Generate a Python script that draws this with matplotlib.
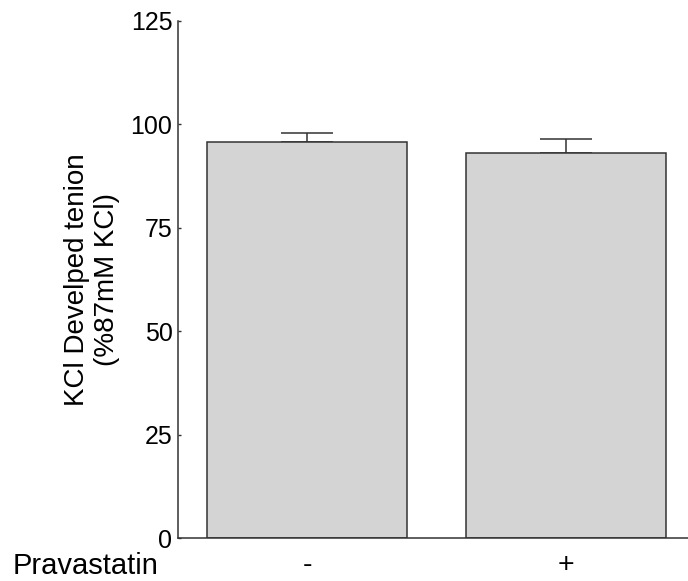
import matplotlib
matplotlib.use("Agg")
from matplotlib import pyplot as plt

plt.rcParams["font.family"] = ["Liberation Sans", "DejaVu Sans"]

groups = ["-", "+"]
tension = [95.7, 93.2]
sem = [2.1, 3.3]
yticks = [0, 25, 50, 75, 100, 125]

fig = plt.figure(figsize=(6.88, 5.81), dpi=100)
ax = fig.add_axes([0.2587, 0.074, 0.7413, 0.8899])

pos = list(range(len(groups)))
ax.bar(pos, tension, width=0.772, color="#d4d4d4", edgecolor="#333333",
       linewidth=1.1, zorder=2)
ax.errorbar(pos, tension, yerr=[[0, 0], sem], fmt="none", ecolor="#333333",
            elinewidth=1.1, capsize=18.4, capthick=1.1, zorder=1)

ax.set_xlim(-0.5, 1.47)
ax.set_ylim(0, 125)
ax.set_yticks(yticks)
ax.set_xticks(pos)
ax.set_xticklabels(groups, fontsize=20.5)
ax.tick_params(axis="y", direction="in", length=2.5, width=1, pad=4,
               labelsize=18, color="#333333")
ax.tick_params(axis="x", length=0, pad=10)

for s in ["top", "right"]:
    ax.spines[s].set_visible(False)
for s in ["left", "bottom"]:
    ax.spines[s].set_color("#333333")
    ax.spines[s].set_linewidth(1.1)

ax.set_ylabel("KCl Develped tenion\n(%87mM KCl)", fontsize=20)
ax.yaxis.set_label_coords(-0.113, 0.5)

fig.text(13 / 688, 7 / 581, "Pravastatin", fontsize=21, ha="left",
         va="baseline")

fig.savefig("out.png", dpi=100)
